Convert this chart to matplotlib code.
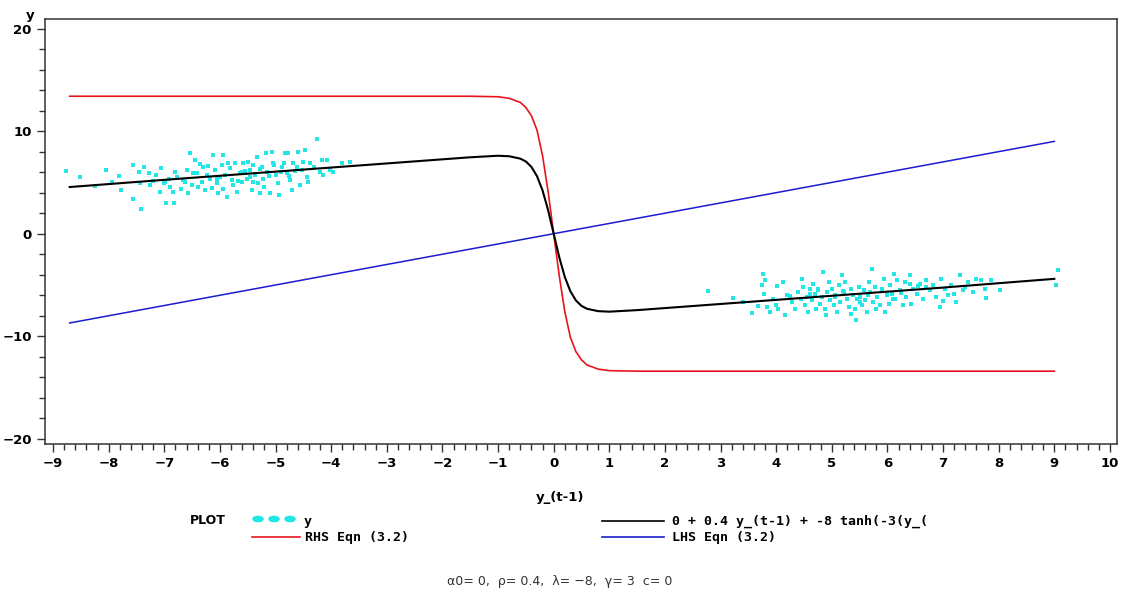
import numpy as np
import matplotlib
matplotlib.use('Agg')
import matplotlib.pyplot as plt
from matplotlib.ticker import MultipleLocator

# ---- data ----
# simulated series y against y_(t-1), left cluster
left_x = [-8.76, -8.51, -8.24, -8.05, -7.94, -7.81, -7.77, -7.57, -7.56, -7.46,
          -7.44, -7.41, -7.36, -7.27, -7.26, -7.14, -7.08, -6.99, -6.97, -6.90,
          -6.84, -6.82, -6.78, -6.66, -6.60, -6.57, -6.54, -6.51, -6.45, -6.42,
          -6.39, -6.33, -6.30, -6.27, -6.24, -6.18, -6.12, -6.09, -6.06, -6.03,
          -5.97, -5.94, -5.91, -5.88, -5.82, -5.79, -5.76, -5.73, -5.70, -5.64,
          -5.61, -5.58, -5.52, -5.49, -5.46, -5.43, -5.40, -5.37, -5.34, -5.31,
          -5.28, -5.25, -5.22, -5.17, -5.16, -5.10, -5.07, -5.04, -4.99, -4.95,
          -4.93, -4.89, -4.83, -4.80, -4.77, -4.74, -4.71, -4.68, -4.62, -4.59,
          -4.56, -4.53, -4.47, -4.44, -4.41, -4.38, -4.26, -4.20, -4.17, -4.14,
          -4.08, -4.02, -3.96, -3.81, -3.66,
          -7.20, -7.05, -6.92, -6.70, -6.48, -6.36, -6.15, -6.00, -5.85, -5.67,
          -5.55, -5.40, -5.28, -5.12, -5.02, -4.90, -4.75, -4.65, -4.50, -4.30,
          -6.62, -6.21, -5.95, -5.60, -5.20, -4.85, -5.45, -6.05, -6.80, -7.00]
left_y = [6.14, 5.48, 4.66, 6.20, 5.05, 5.60, 4.24, 6.68, 3.40, 6.03,
          4.90, 2.36, 6.52, 5.90, 4.73, 5.70, 4.08, 5.05, 3.00, 4.56,
          4.08, 3.00, 5.54, 5.22, 6.20, 3.92, 7.82, 4.73, 7.17, 5.87,
          4.56, 5.05, 6.52, 4.24, 5.70, 5.38, 7.66, 6.20, 4.90, 3.92,
          6.68, 7.66, 5.70, 3.60, 6.36, 5.22, 4.73, 6.91, 4.08, 5.87,
          5.05, 6.85, 5.38, 7.00, 6.20, 4.24, 6.68, 5.70, 7.49, 4.90,
          3.98, 6.52, 5.38, 7.82, 6.03, 3.98, 7.98, 6.85, 5.70, 4.90,
          3.76, 6.52, 7.88, 5.87, 7.88, 5.22, 4.24, 6.85, 6.52, 7.98,
          4.73, 6.20, 8.15, 5.54, 5.05, 6.85, 9.19, 6.03, 7.17, 5.70,
          7.17, 6.20, 6.03, 6.91, 7.00,
          5.10, 6.40, 5.30, 4.40, 5.90, 6.80, 4.50, 5.50, 6.90, 5.10,
          6.10, 5.00, 6.30, 5.60, 6.70, 6.00, 5.60, 6.10, 7.00, 6.50,
          5.00, 6.60, 4.40, 6.00, 4.60, 6.90, 5.50, 5.30, 6.00, 4.90]

# right cluster
right_x = [2.78, 3.23, 3.41, 3.56, 3.68, 3.74, 3.77, 3.78, 3.80, 3.84,
           3.89, 3.95, 4.00, 4.02, 4.04, 4.13, 4.16, 4.19, 4.28, 4.34,
           4.40, 4.46, 4.49, 4.52, 4.55, 4.58, 4.61, 4.64, 4.67, 4.70,
           4.72, 4.76, 4.79, 4.82, 4.85, 4.88, 4.91, 4.94, 4.97, 5.00,
           5.03, 5.06, 5.09, 5.12, 5.15, 5.18, 5.21, 5.24, 5.27, 5.31,
           5.35, 5.38, 5.42, 5.43, 5.45, 5.48, 5.51, 5.54, 5.57, 5.60,
           5.63, 5.66, 5.69, 5.72, 5.74, 5.78, 5.81, 5.87, 5.90, 5.93,
           5.99, 6.02, 6.05, 6.08, 6.11, 6.14, 6.17, 6.23, 6.28, 6.31,
           6.34, 6.40, 6.43, 6.46, 6.53, 6.58, 6.64, 6.70, 6.76, 6.82,
           6.88, 6.94, 6.97, 7.03, 7.09, 7.15, 7.24, 7.30, 7.36, 7.45,
           7.54, 7.60, 7.69, 7.75, 7.78, 7.87, 8.02, 9.07, 9.03,
           4.25, 4.60, 4.90, 5.20, 5.50, 5.80, 6.10, 6.40, 6.70, 7.00,
           5.05, 5.65, 6.25, 4.45, 7.20, 5.35, 5.95, 6.55, 4.75, 7.40]
right_y = [-5.61, -6.26, -6.65, -7.69, -7.04, -5.02, -3.88, -5.83, -4.54, -7.14,
           -7.63, -6.32, -6.98, -5.09, -7.30, -4.70, -7.95, -6.00, -6.65, -7.30,
           -5.68, -4.37, -5.19, -6.98, -6.17, -7.63, -5.35, -6.49, -4.86, -5.83,
           -7.30, -5.35, -6.81, -6.17, -3.72, -7.30, -5.68, -4.70, -6.49, -5.35,
           -6.98, -6.00, -7.63, -5.02, -6.65, -4.05, -5.68, -4.70, -6.32, -7.14,
           -5.35, -6.00, -7.30, -8.44, -6.32, -5.19, -6.17, -6.98, -5.51, -6.49,
           -7.63, -4.70, -5.68, -3.46, -6.65, -5.19, -6.17, -6.98, -5.35, -4.37,
           -6.00, -6.81, -5.02, -5.83, -3.88, -6.32, -4.54, -5.51, -6.98, -4.70,
           -6.17, -4.05, -6.81, -5.35, -5.83, -4.86, -6.32, -4.54, -5.51, -5.02,
           -6.17, -7.14, -4.37, -5.35, -6.00, -5.02, -6.65, -4.05, -5.51, -4.70,
           -5.68, -4.37, -4.54, -5.35, -6.26, -4.54, -5.51, -3.56, -4.96,
           -6.10, -5.90, -7.90, -5.60, -6.70, -7.30, -6.40, -4.90, -5.20, -6.60,
           -6.20, -6.00, -5.80, -6.40, -5.90, -7.80, -7.60, -5.10, -5.50, -5.20]

# fitted skeleton 0 + 0.4 y_(t-1) + -8 tanh(-3(y_(t-1)))
curve_x = [-8.7, -7.0, -5.0, -3.0, -2.0, -1.5, -1.0, -0.8, -0.6, -0.5, -0.4, -0.3,
           -0.2, -0.1, 0.0, 0.1, 0.2, 0.3, 0.4, 0.5, 0.6, 0.8, 1.0, 1.5, 2.0,
           3.0, 5.0, 7.0, 9.0]
black_y = [4.55, 5.25, 6.05, 6.85, 7.25, 7.45, 7.60, 7.55, 7.32, 7.04, 6.51, 5.61,
           4.22, 2.29, 0.0, -2.29, -4.22, -5.61, -6.51, -7.04, -7.32, -7.55, -7.60,
           -7.45, -7.25, -6.85, -6.05, -5.25, -4.40]
red_y = [13.40, 13.40, 13.40, 13.40, 13.40, 13.40, 13.35, 13.20, 12.80, 12.30, 11.50, 10.10,
         7.60, 4.10, 0.0, -4.10, -7.60, -10.10, -11.50, -12.30, -12.80, -13.20, -13.35,
         -13.40, -13.40, -13.40, -13.40, -13.40, -13.40]
blue_x = [-8.7, 9.0]
blue_y = [-8.7, 9.0]

x_ticks = list(range(-9, 11))
y_ticks = [-20, -10, 0, 10, 20]

CYAN = '#22e6e6'
RED = '#e8141c'
BLUE = '#1c1cd0'

fig = plt.figure(figsize=(11.21, 5.92), dpi=100)
ax = fig.add_axes([45 / 1121, 148 / 592, (1117 - 45) / 1121, (444 - 19) / 592])

ax.scatter(left_x, left_y, s=8, marker='s', color=CYAN, linewidths=0, zorder=2)
ax.scatter(right_x, right_y, s=8, marker='s', color=CYAN, linewidths=0, zorder=2)
ax.plot(curve_x, red_y, color=RED, lw=1.2, zorder=3)
ax.plot(curve_x, black_y, color='black', lw=1.5, zorder=4)
ax.plot(blue_x, blue_y, color=BLUE, lw=1.1, zorder=3)

ax.set_xlim(-9.144, 10.126)
ax.set_ylim(-20.5, 20.93)
ax.set_xticks(x_ticks)
ax.set_yticks(y_ticks)
ax.xaxis.set_minor_locator(MultipleLocator(0.2))
ax.yaxis.set_minor_locator(MultipleLocator(2))
ax.tick_params(which='major', direction='out', length=6, width=1, color='#333333')
ax.tick_params(which='minor', direction='out', length=4, width=1, color='#333333')
for lab in ax.get_xticklabels() + ax.get_yticklabels():
    lab.set_fontweight('bold')
    lab.set_fontsize(9.5)
for s in ax.spines.values():
    s.set_color('#333333')
    s.set_linewidth(1.1)

fig.text(30 / 1121, 1 - 16 / 592, 'y', fontsize=9.5, fontweight='bold', ha='center', va='center')
fig.text(560 / 1121, 1 - 497 / 592, 'y_(t-1)', fontsize=9.5, fontweight='bold', ha='center', va='center')

# ---- legend, drawn by hand like the SAS one ----
mono = 'DejaVu Sans Mono'
fig.text(190 / 1121, 1 - 521 / 592, 'PLOT', fontsize=9, fontweight='bold', ha='left', va='center')
for px in (258, 274, 290):
    fig.patches.append(plt.Circle((px / 1121, 1 - 519 / 592), 0.0045, color=CYAN,
                                  transform=fig.transFigure, figure=fig))
fig.text(304 / 1121, 1 - 522 / 592, 'y', fontsize=9.5, fontweight='bold', ha='left', va='center',
         family=mono)
fig.add_artist(plt.Line2D([252 / 1121, 300 / 1121], [1 - 537 / 592] * 2, color=RED, lw=1.2))
fig.text(305 / 1121, 1 - 538 / 592, 'RHS Eqn (3.2)', fontsize=9.5, fontweight='bold',
         ha='left', va='center', family=mono)
fig.add_artist(plt.Line2D([602 / 1121, 664 / 1121], [1 - 521 / 592] * 2, color='black', lw=1.2))
fig.text(672 / 1121, 1 - 521 / 592, '0 + 0.4 y_(t-1) + -8 tanh(-3(y_(', fontsize=9.5,
         fontweight='bold', ha='left', va='center', family=mono)
fig.add_artist(plt.Line2D([602 / 1121, 664 / 1121], [1 - 537 / 592] * 2, color=BLUE, lw=1.2))
fig.text(672 / 1121, 1 - 538 / 592, 'LHS Eqn (3.2)', fontsize=9.5, fontweight='bold',
         ha='left', va='center', family=mono)

fig.text(560 / 1121, 1 - 582 / 592, 'α0= 0,  ρ= 0.4,  λ= −8,  γ= 3  c= 0', fontsize=9,
         ha='center', va='center', color='#333333')

fig.savefig('out.png', dpi=100)
